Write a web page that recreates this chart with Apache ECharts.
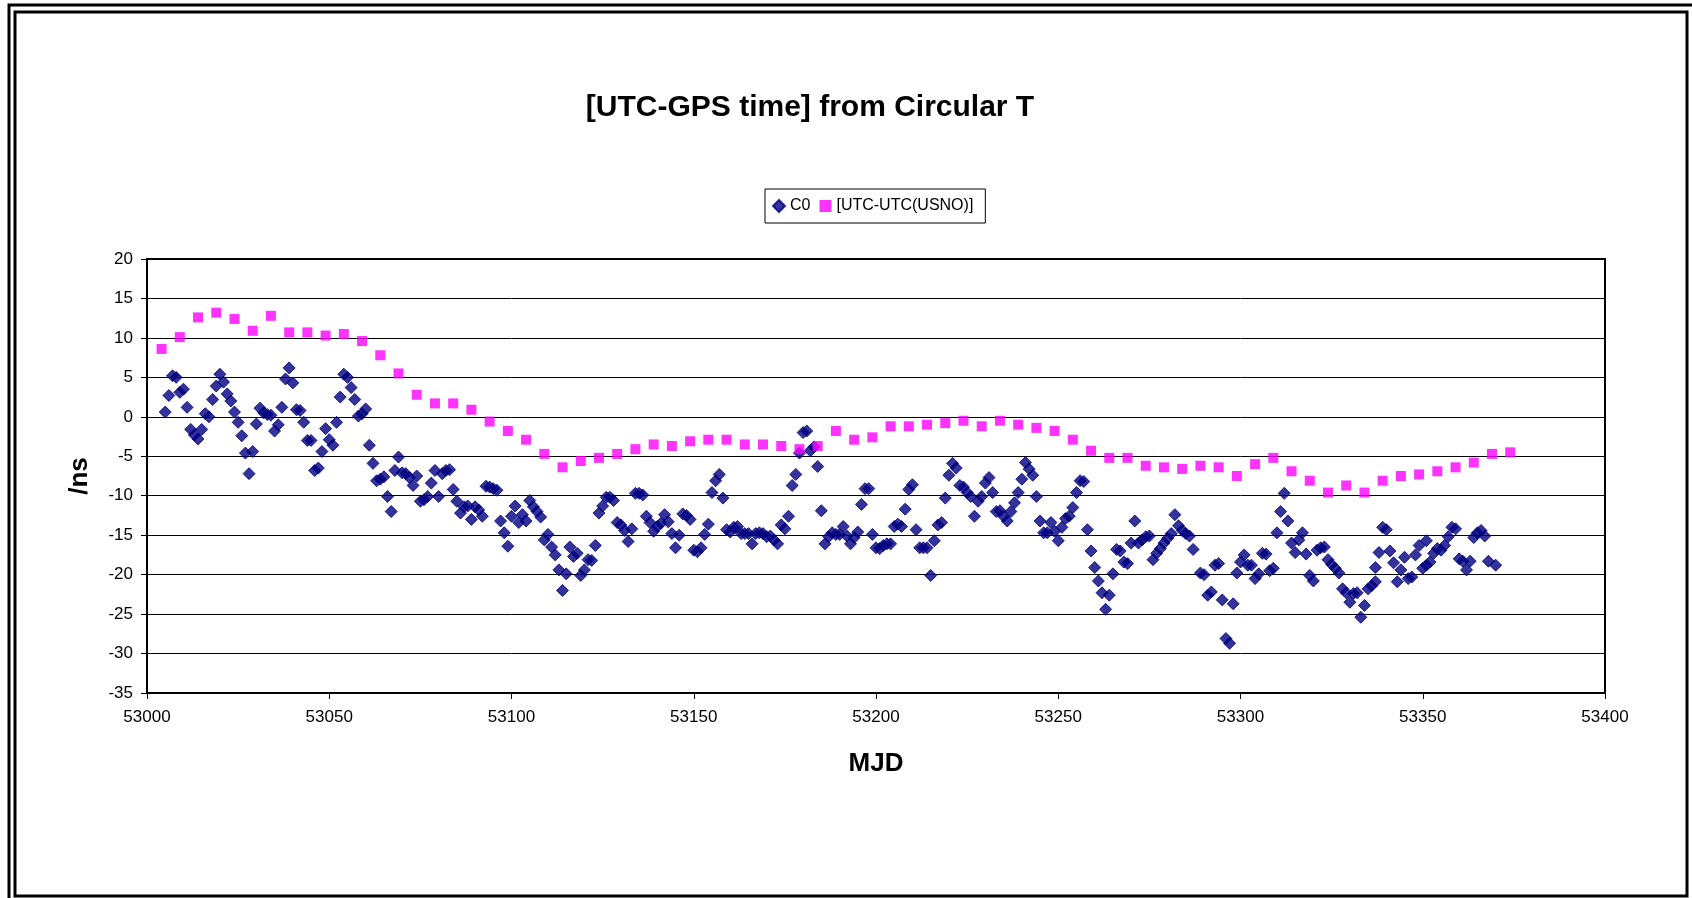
<!DOCTYPE html>
<html>
<head>
<meta charset="utf-8">
<script src="https://cdn.jsdelivr.net/npm/echarts@6/dist/echarts.min.js"></script>
<style>
  html, body { margin: 0; padding: 0; background: #fff; }
  #chart { width: 1692px; height: 898px; }
</style>
</head>
<body>
<div id="chart"></div>
<script>
// C0 : daily values (ns)
var c0Mjd = [
  53005,53006,53007,53008,53009,53010,53011,53012,53013,53014,53015,53016,53017,53018,53019,53020,
  53021,53022,53023,53024,53025,53026,53027,53028,53029,53030,53031,53032,53033,53034,53035,53036,
  53037,53038,53039,53040,53041,53042,53043,53044,53045,53046,53047,53048,53049,53050,53051,53052,
  53053,53054,53055,53056,53057,53058,53059,53060,53061,53062,53063,53064,53065,53066,53067,53068,
  53069,53070,53071,53072,53073,53074,53075,53076,53077,53078,53079,53080,53081,53082,53083,53084,
  53085,53086,53087,53088,53089,53090,53091,53092,53093,53094,53095,53096,53097,53098,53099,53100,
  53101,53102,53103,53104,53105,53106,53107,53108,53109,53110,53111,53112,53113,53114,53115,53116,
  53117,53118,53119,53120,53121,53122,53123,53124,53125,53126,53127,53128,53129,53130,53131,53132,
  53133,53134,53135,53136,53137,53138,53139,53140,53141,53142,53143,53144,53145,53146,53147,53148,
  53149,53150,53151,53152,53153,53154,53155,53156,53157,53158,53159,53160,53161,53162,53163,53164,
  53165,53166,53167,53168,53169,53170,53171,53172,53173,53174,53175,53176,53177,53178,53179,53180,
  53181,53182,53183,53184,53185,53186,53187,53188,53189,53190,53191,53192,53193,53194,53195,53196,
  53197,53198,53199,53200,53201,53202,53203,53204,53205,53206,53207,53208,53209,53210,53211,53212,
  53213,53214,53215,53216,53217,53218,53219,53220,53221,53222,53223,53224,53225,53226,53227,53228,
  53229,53230,53231,53232,53233,53234,53235,53236,53237,53238,53239,53240,53241,53242,53243,53244,
  53245,53246,53247,53248,53249,53250,53251,53252,53253,53254,53255,53256,53257,53258,53259,53260,
  53261,53262,53263,53264,53265,53266,53267,53268,53269,53270,53271,53272,53273,53274,53275,53276,
  53277,53278,53279,53280,53281,53282,53283,53284,53285,53286,53287,53289,53290,53291,53292,53293,
  53294,53295,53296,53297,53298,53299,53300,53301,53302,53303,53304,53305,53306,53307,53308,53309,
  53310,53311,53312,53313,53314,53315,53316,53317,53318,53319,53320,53321,53322,53323,53324,53325,
  53326,53327,53328,53329,53330,53331,53332,53333,53334,53335,53336,53337,53337,53338,53339,53340,
  53341,53342,53343,53344,53345,53346,53347,53348,53349,53350,53351,53351,53352,53353,53354,53355,
  53356,53357,53358,53359,53360,53361,53362,53363,53364,53365,53366,53367,53368,53370
];
var c0Ns = [
  0.6,2.7,5.2,5.0,3.1,3.5,1.2,-1.6,-2.3,-2.8,-1.6,0.4,0.0,2.2,3.9,5.4,
  4.4,2.9,2.0,0.6,-0.7,-2.4,-4.6,-7.2,-4.4,-0.9,1.1,0.5,0.3,0.2,-1.8,-1.0,
  1.2,4.8,6.2,4.3,0.9,0.8,-0.7,-3.0,-3.0,-6.8,-6.5,-4.4,-1.5,-2.9,-3.6,-0.7,
  2.5,5.4,5.0,3.7,2.2,0.1,0.4,1.0,-3.6,-5.9,-8.1,-7.9,-7.6,-10.1,-12.0,-6.8,
  -5.1,-7.1,-7.2,-7.7,-8.7,-7.5,-10.7,-10.5,-10.1,-8.4,-6.8,-10.1,-7.2,-6.8,-6.7,-9.2,
  -10.7,-12.2,-11.4,-11.3,-13.0,-11.4,-11.8,-12.6,-8.8,-8.9,-9.1,-9.3,-13.2,-14.7,-16.4,-12.6,
  -11.3,-13.4,-12.4,-13.2,-10.6,-11.4,-12.0,-12.7,-15.6,-14.9,-16.5,-17.5,-19.4,-22.0,-19.9,-16.5,
  -17.7,-17.3,-20.1,-19.4,-18.1,-18.2,-16.3,-12.2,-11.3,-10.2,-10.2,-10.6,-13.4,-13.7,-14.4,-15.8,
  -14.2,-9.7,-9.7,-9.9,-12.6,-13.4,-14.5,-13.9,-13.5,-12.4,-13.3,-14.8,-16.6,-15.0,-12.3,-12.5,
  -13.0,-16.9,-17.1,-16.6,-14.9,-13.6,-9.6,-8.1,-7.3,-10.3,-14.3,-14.6,-14.0,-13.9,-14.8,-14.8,
  -14.8,-16.1,-14.8,-14.7,-14.8,-15.2,-15.1,-15.6,-16.1,-13.7,-14.2,-12.6,-8.7,-7.3,-4.6,-2.0,
  -1.8,-4.3,-3.8,-6.3,-11.9,-16.1,-15.2,-14.7,-14.9,-14.9,-13.9,-15.1,-16.1,-15.3,-14.6,-11.1,
  -9.1,-9.1,-14.9,-16.6,-16.7,-16.3,-16.1,-16.1,-13.9,-13.6,-13.9,-11.7,-9.2,-8.6,-14.3,-16.6,
  -16.6,-16.6,-20.1,-15.7,-13.7,-13.4,-10.3,-7.4,-5.9,-6.5,-8.7,-8.9,-9.6,-10.1,-12.6,-10.7,
  -10.1,-8.4,-7.7,-9.6,-12.0,-11.9,-12.6,-13.2,-12.0,-10.9,-9.6,-7.9,-5.8,-6.6,-7.4,-10.1,
  -13.2,-14.7,-14.7,-13.4,-14.5,-15.7,-14.0,-12.9,-12.6,-11.5,-9.6,-8.1,-8.2,-14.3,-17.0,-19.1,
  -20.8,-22.3,-24.4,-22.6,-19.9,-16.8,-17.0,-18.4,-18.6,-16.0,-13.2,-16.0,-15.6,-15.2,-15.1,-18.1,
  -17.3,-16.7,-16.0,-15.4,-14.8,-12.4,-13.8,-14.4,-14.8,-15.1,-16.8,-19.8,-20.0,-22.6,-22.2,-18.8,
  -18.6,-23.2,-28.1,-28.7,-23.7,-19.8,-18.4,-17.5,-18.8,-18.8,-20.5,-19.9,-17.3,-17.4,-19.5,-19.2,
  -14.7,-12.0,-9.7,-13.2,-16.0,-17.2,-15.6,-14.7,-17.4,-20.1,-20.8,-16.9,-16.6,-16.5,-18.1,-18.7,
  -19.2,-19.8,-21.8,-22.3,-23.5,-22.4,-22.3,-25.4,-23.9,-21.8,-21.4,-20.9,-19.1,-17.2,-14.0,-14.3,
  -17.0,-18.5,-20.9,-19.4,-17.8,-20.5,-20.3,-17.5,-16.3,-19.2,-18.8,-15.7,-18.4,-17.3,-16.7,-16.9,
  -16.3,-15.2,-14.0,-14.2,-18.0,-18.3,-19.4,-18.3,-15.3,-14.7,-14.4,-15.1,-18.3,-18.8
];

// [UTC-UTC(USNO)] : 5-day values (ns)
var usnoMjd = [
  53004,53009,53014,53019,53024,53029,53034,53039,53044,53049,53054,53059,53064,53069,53074,
  53079,53084,53089,53094,53099,53104,53109,53114,53119,53124,53129,53134,53139,53144,53149,
  53154,53159,53164,53169,53174,53179,53184,53189,53194,53199,53204,53209,53214,53219,53224,
  53229,53234,53239,53244,53249,53254,53259,53264,53269,53274,53279,53284,53289,53294,53299,
  53304,53309,53314,53319,53324,53329,53334,53339,53344,53349,53354,53359,53364,53369,53374
];
var usnoNs = [
  8.6,10.1,12.6,13.2,12.4,10.9,12.8,10.7,10.7,10.3,10.5,9.6,7.8,5.5,2.8,
  1.7,1.7,0.9,-0.6,-1.8,-2.9,-4.7,-6.4,-5.6,-5.2,-4.7,-4.1,-3.5,-3.7,-3.1,
  -2.9,-2.9,-3.5,-3.5,-3.7,-4.1,-3.7,-1.8,-2.9,-2.6,-1.2,-1.2,-1.0,-0.8,-0.5,
  -1.2,-0.5,-1.0,-1.4,-1.8,-2.9,-4.3,-5.2,-5.2,-6.2,-6.4,-6.6,-6.2,-6.4,-7.5,
  -6.0,-5.2,-6.9,-8.1,-9.6,-8.7,-9.6,-8.1,-7.5,-7.3,-6.9,-6.4,-5.8,-4.7,-4.5
];

var font = 'Liberation Sans, Arial, sans-serif';

function pairs(xs, ys) {
  var out = [];
  for (var i = 0; i < xs.length; i++) out.push([xs[i], ys[i]]);
  return out;
}

var chart = echarts.init(document.getElementById('chart'));

var option = {
  backgroundColor: '#fff',
  animation: false,
  title: {
    text: '[UTC-GPS time] from Circular T',
    left: 805,
    textAlign: 'center',
    top: 88,
    textStyle: { fontFamily: font, fontSize: 30, fontWeight: 'bold', color: '#000' }
  },
  legend: {
    left: 765,
    top: 189,
    orient: 'horizontal',
    padding: [9, 12, 9, 7],
    itemGap: 9,
    itemWidth: 12,
    itemHeight: 12,
    borderColor: '#000',
    borderWidth: 1,
    textStyle: { fontFamily: font, fontSize: 16, color: '#000' },
    data: [
      { name: 'C0', icon: 'diamond' },
      { name: '[UTC-UTC(USNO)]', icon: 'rect' }
    ]
  },
  grid: {
    left: 147,
    right: 87,
    top: 259,
    bottom: 205,
    show: true,
    borderColor: '#000',
    borderWidth: 2,
    backgroundColor: '#fff'
  },
  xAxis: {
    type: 'value',
    min: 53000,
    max: 53400,
    interval: 50,
    name: 'MJD',
    nameLocation: 'middle',
    nameGap: 58,
    nameTextStyle: { fontFamily: font, fontSize: 26, fontWeight: 'bold', color: '#000' },
    axisLine: { onZero: false, lineStyle: { color: '#000', width: 2 } },
    axisTick: { show: true, length: 6, lineStyle: { color: '#000' } },
    axisLabel: {
      margin: 16, fontFamily: font, fontSize: 17, color: '#000',
      formatter: function (v) { return String(v); }
    },
    splitLine: { show: false }
  },
  yAxis: {
    type: 'value',
    min: -35,
    max: 20,
    interval: 5,
    name: '/ns',
    nameLocation: 'middle',
    nameGap: 54,
    nameTextStyle: { fontFamily: font, fontSize: 26, fontWeight: 'bold', color: '#000' },
    axisLine: { show: true, lineStyle: { color: '#000', width: 2 } },
    axisTick: { show: true, length: 6, lineStyle: { color: '#000' } },
    axisLabel: { margin: 14, fontFamily: font, fontSize: 17, color: '#000' },
    splitLine: { show: true, lineStyle: { color: '#000', width: 1 } }
  },
  graphic: [
    { type: 'polyline', shape: { points: [[9, 898], [9, 5], [1692, 5]] }, style: { stroke: '#000', lineWidth: 3, fill: null } },
    { type: 'rect', shape: { x: 15, y: 12, width: 1672, height: 884 }, style: { stroke: '#000', lineWidth: 3, fill: null } }
  ],
  series: [
    {
      name: 'C0',
      type: 'scatter',
      symbol: 'diamond',
      symbolSize: 12,
      itemStyle: { color: '#000080', borderColor: '#000080', borderWidth: 1 },
      data: pairs(c0Mjd, c0Ns)
    },
    {
      name: '[UTC-UTC(USNO)]',
      type: 'scatter',
      symbol: 'rect',
      symbolSize: 10,
      itemStyle: { color: '#ff00ff' },
      data: pairs(usnoMjd, usnoNs)
    }
  ]
};

chart.setOption(option);
</script>
</body>
</html>
